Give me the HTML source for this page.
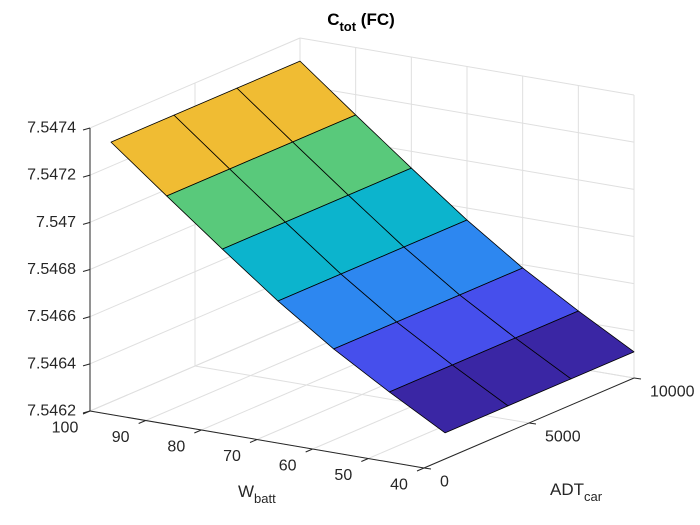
<!DOCTYPE html>
<html><head><meta charset="utf-8"><style>
html,body{margin:0;padding:0;background:#fff;}
svg{display:block;font-family:"Liberation Sans",Arial,sans-serif;}
</style></head><body>
<svg id="chart" width="700" height="525" viewBox="0 0 700 525" xmlns="http://www.w3.org/2000/svg">
<g id="grid"></g>
<g id="surf"></g>
<g id="axes"></g>
<text x="361" y="25" text-anchor="middle" font-size="17" font-weight="bold" fill="#000">C<tspan font-size="13" dy="6">tot</tspan><tspan dy="-6"> (FC)</tspan></text>
<text x="238" y="497" font-size="17" fill="#262626">W<tspan font-size="13" dy="6">batt</tspan></text>
<text x="550" y="495" font-size="17" fill="#262626">ADT<tspan font-size="13" dy="6">car</tspan></text>
</svg>
<script>
const wValues = [100, 90, 80, 70, 60, 50, 40];
const adtValues = [1000, 4000, 7000, 10000];
const zByW = [7.547302, 7.547114, 7.546929, 7.546749, 7.546586, 7.546444, 7.546311];
const wTicks = [100, 90, 80, 70, 60, 50, 40];
const adtTicks = [0, 5000, 10000];
const zTicks = [7.5462, 7.5464, 7.5466, 7.5468, 7.547, 7.5472, 7.5474];
const zTickLabels = ["7.5462", "7.5464", "7.5466", "7.5468", "7.547", "7.5472", "7.5474"];

const W0 = 100, W1 = 40, A0 = 0, A1 = 10000, Z0 = 7.5462, Z1 = 7.5474;
function P(w, a, z) {
  const fw = (W0 - w) / (W0 - W1), fa = (a - A0) / (A1 - A0), fz = (z - Z0) / (Z1 - Z0);
  return [90 + fw * 334 + fa * 210, 411 + fw * 57 - fa * 90 - fz * 283];
}
const NS = "http://www.w3.org/2000/svg";
function line(g, p, q, color, w) {
  const l = document.createElementNS(NS, "line");
  l.setAttribute("x1", p[0]); l.setAttribute("y1", p[1]);
  l.setAttribute("x2", q[0]); l.setAttribute("y2", q[1]);
  l.setAttribute("stroke", color); l.setAttribute("stroke-width", w || 1);
  g.appendChild(l); return l;
}
function text(g, x, y, s, anchor) {
  const t = document.createElementNS(NS, "text");
  t.setAttribute("x", x); t.setAttribute("y", y);
  t.setAttribute("font-size", "16"); t.setAttribute("fill", "#262626");
  t.setAttribute("text-anchor", anchor); t.setAttribute("dominant-baseline", "central");
  t.textContent = s; g.appendChild(t); return t;
}
const grid = document.getElementById("grid");
const GC = "#dfdfdf";
zTicks.forEach(z => { const l = line(grid, P(W0, A1, z), P(W1, A1, z), GC);
  
   });
wTicks.forEach(w => { const l = line(grid, P(w, A1, Z0), P(w, A1, Z1), GC);
  
   });
zTicks.forEach(z => { const l = line(grid, P(W0, A0, z), P(W0, A1, z), GC);
  
   });
adtTicks.forEach(a => { const l = line(grid, P(W0, a, Z0), P(W0, a, Z1), GC);
  
   });
wTicks.forEach(w => { const l = line(grid, P(w, A0, Z0), P(w, A1, Z0), GC);
  
   });
adtTicks.forEach(a => { const l = line(grid, P(W0, a, Z0), P(W1, a, Z0), GC);
  
   });

const cmapStops = [0, 0.07, 0.21, 0.36, 0.53, 0.72, 0.9, 1];
const cmapColors = [[58,38,164],[58,38,164],[70,80,238],[45,135,240],[11,180,206],[90,201,122],[239,185,53],[249,251,14]];
function cmap(t) {
  t = Math.max(0, Math.min(1, t));
  for (let i = 1; i < cmapStops.length; i++) {
    if (t <= cmapStops[i]) {
      const f = (t - cmapStops[i-1]) / (cmapStops[i] - cmapStops[i-1] || 1);
      const c = cmapColors[i-1].map((v, k) => Math.round(v + f * (cmapColors[i][k] - v)));
      return "rgb(" + c.join(",") + ")";
    }
  }
  return "rgb(249,251,14)";
}
const zmin = Math.min(...zByW), zmax = Math.max(...zByW);
const surf = document.getElementById("surf");
for (let i = 0; i < wValues.length - 1; i++) {
  for (let j = 0; j < adtValues.length - 1; j++) {
    const pts = [P(wValues[i], adtValues[j], zByW[i]), P(wValues[i], adtValues[j+1], zByW[i]),
                 P(wValues[i+1], adtValues[j+1], zByW[i+1]), P(wValues[i+1], adtValues[j], zByW[i+1])];
    const mean = (zByW[i] + zByW[i+1]) / 2;
    const poly = document.createElementNS(NS, "polygon");
    poly.setAttribute("points", pts.map(p => p.join(",")).join(" "));
    poly.setAttribute("fill", cmap((mean - zmin) / (zmax - zmin)));
    poly.setAttribute("stroke", "#000"); poly.setAttribute("stroke-width", "0.8");
    poly.setAttribute("stroke-linejoin", "round");
    
    
    surf.appendChild(poly);
  }
}

const axes = document.getElementById("axes");
const AC = "#262626";
line(axes, P(W0, A0, Z0), P(W0, A0, Z1), AC);
line(axes, P(W0, A0, Z0), P(W1, A0, Z0), AC);
line(axes, P(W1, A0, Z0), P(W1, A1, Z0), AC);
zTicks.forEach((z, k) => {
  const p = P(W0, A0, z);
  line(axes, p, [p[0] - 7, p[1] + 2], AC);
  const t = text(axes, p[0] - 14, p[1], zTickLabels[k], "end");
  
  
});
wTicks.forEach(w => {
  const p = P(w, A0, Z0);
  line(axes, p, [p[0] - 7, p[1] + 3], AC);
  const t = text(axes, p[0] - 25, p[1] + 17, String(w), "middle");
  
  
});
adtTicks.forEach(a => {
  const p = P(W1, a, Z0);
  line(axes, p, [p[0] + 7, p[1] + 1], AC);
  const t = text(axes, p[0] + 16, p[1] + 14, String(a), "start");
  
  
});
</script>
</body></html>
